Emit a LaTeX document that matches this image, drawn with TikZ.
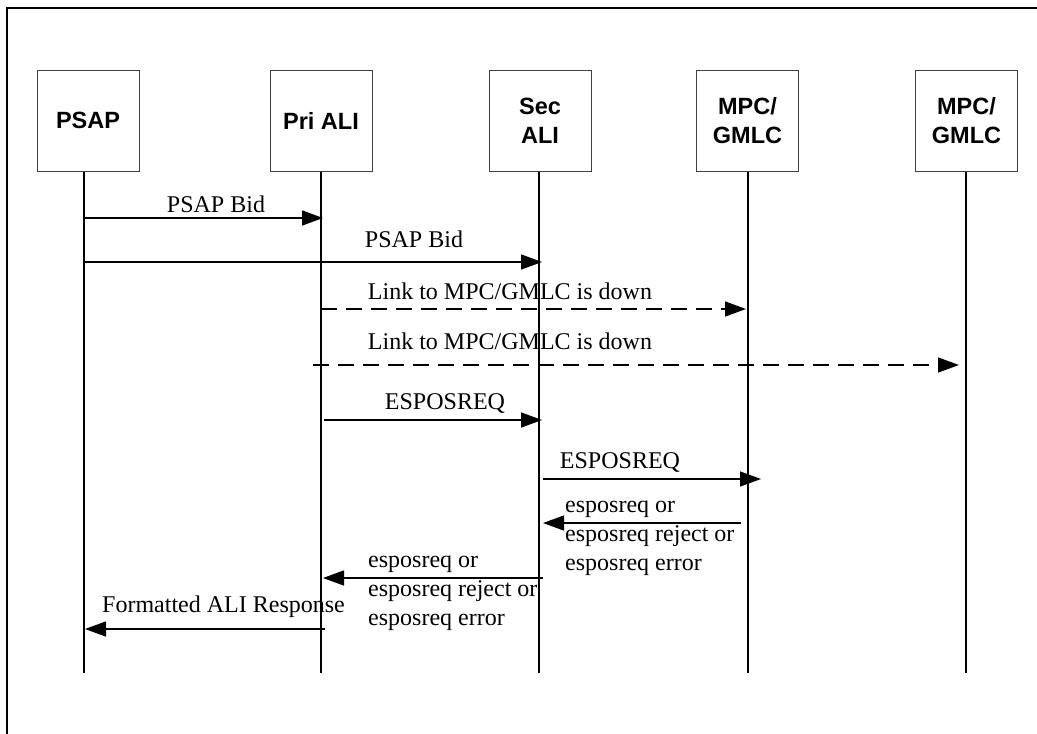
\documentclass[tikz,border=0pt]{standalone}
\usepackage{fontspec}
\setmainfont{Liberation Serif}
\setsansfont{Liberation Sans}
\usetikzlibrary{arrows.meta}
\begin{document}
\begin{tikzpicture}[x=1pt,y=-1pt,
  actor/.style={draw=black!75,line width=0.9pt,minimum width=102pt,minimum height=101pt,inner sep=0pt,
    font=\sffamily\bfseries\fontsize{23.5}{29}\selectfont,align=center},
  life/.style={line width=1.4pt},
  msg/.style={line width=1.4pt,-{Triangle[length=21pt,width=15pt]}},
  dmsg/.style={msg,dash pattern=on 16pt off 9pt},
  lbl/.style={font=\fontsize{24}{28.8}\selectfont,inner sep=0pt,anchor=base},
  mlbl/.style={font=\fontsize{24}{28.8}\selectfont,inner sep=0pt,align=left,anchor=base west}]
\useasboundingbox (0,0) rectangle (1037,734);
% frame
\draw[line width=2pt] (7,736) -- (7,8) -- (1040,8);
% actors
\node[actor] (psap) at (88,120.5) {PSAP};
\node[actor] (pri) at (321,120.5) {Pri ALI};
\node[actor] (sec) at (540,121) {Sec\\ALI};
\node[actor] (mpc1) at (747.5,120.5) {MPC/\\GMLC};
\node[actor] (mpc2) at (966.5,120.5) {MPC/\\GMLC};
% lifelines
\coordinate (psapT) at (84,172); \coordinate (psapB) at (84,673);
\coordinate (priT) at (321,172); \coordinate (priB) at (321,673);
\coordinate (secT) at (539,172); \coordinate (secB) at (539,673);
\coordinate (mpc1T) at (748,172); \coordinate (mpc1B) at (748,673);
\coordinate (mpc2T) at (966,172); \coordinate (mpc2B) at (966,673);
\foreach \n in {psap,pri,sec,mpc1,mpc2} \draw[life] (\n T) -- (\n B);
% message endpoints
\coordinate (a1s) at (84,218);  \coordinate (a1e) at (323,218);
\coordinate (a2s) at (84,262);  \coordinate (a2e) at (542,262);
\coordinate (a3s) at (321,309); \coordinate (a3e) at (746,309);
\coordinate (a4s) at (313,365); \coordinate (a4e) at (959,365);
\coordinate (a5s) at (324,420); \coordinate (a5e) at (542,420);
\coordinate (a6s) at (543,479); \coordinate (a6e) at (761,479);
\coordinate (a7s) at (741,523); \coordinate (a7e) at (543,523);
\coordinate (a8s) at (543,578); \coordinate (a8e) at (323,578);
\coordinate (a9s) at (325,629); \coordinate (a9e) at (85,629);
\draw[msg] (a1s) -- (a1e);
\draw[msg] (a2s) -- (a2e);
\draw[dmsg] (a3s) -- (a3e);
\draw[dmsg] (a4s) -- (a4e);
\draw[msg] (a5s) -- (a5e);
\draw[msg] (a6s) -- (a6e);
\draw[msg] (a7s) -- (a7e);
\draw[msg] (a8s) -- (a8e);
\draw[msg] (a9s) -- (a9e);
% labels
\node[lbl] (l1) at (216,212) {PSAP Bid};
\node[lbl] (l2) at (414,247) {PSAP Bid};
\node[lbl] (l3) at (510,299) {Link to MPC/GMLC is down};
\node[lbl] (l4) at (510,349.5) {Link to MPC/GMLC is down};
\node[lbl] (l5) at (445,409) {ESPOSREQ};
\node[lbl] (l6) at (620,468) {ESPOSREQ};
\node[mlbl] (l7) at (565,570) {esposreq or\\esposreq reject or\\esposreq error};
\node[mlbl] (l8) at (368,625.5) {esposreq or\\esposreq reject or\\esposreq error};
\node[mlbl] (l9) at (102,612) {Formatted ALI Response};
\end{tikzpicture}
\end{document}
